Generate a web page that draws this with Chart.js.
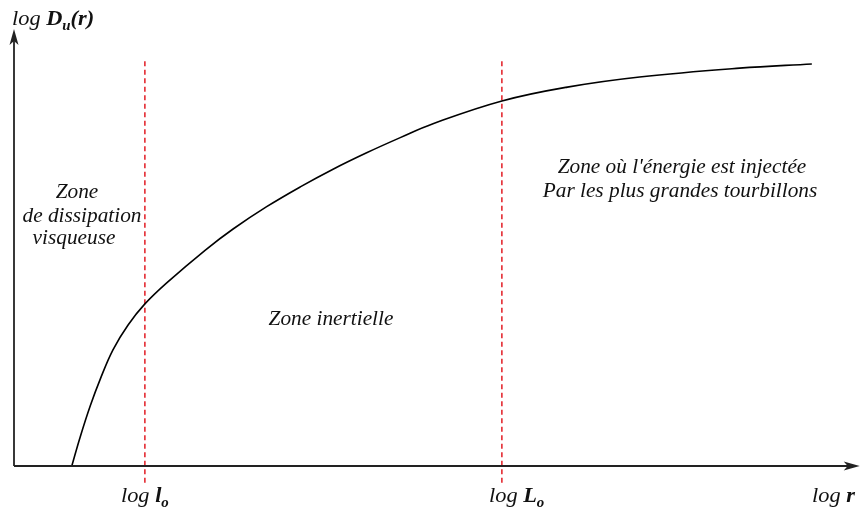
<!DOCTYPE html>
<html>
<head>
<meta charset="utf-8">
<script src="https://cdn.jsdelivr.net/npm/chart.js@4.4.1/dist/chart.umd.min.js"></script>
<style>
html,body{margin:0;padding:0;background:#fff;}
#wrap{width:863px;height:514px;}
</style>
</head>
<body>
<div id="wrap"><canvas id="c" width="863" height="514"></canvas></div>
<script>
// ---- data (arbitrary log units) ----
const curveX = [0.70, 0.80, 0.92, 1.04, 1.19, 1.37, 1.57, 1.83, 2.29, 2.62, 3.02, 3.42, 3.81, 4.21, 4.61, 5.00, 5.82, 6.60, 7.46, 8.65, 9.51];
const curveY = [0.00, 0.69, 1.43, 2.07, 2.76, 3.35, 3.85, 4.35, 5.13, 5.63, 6.16, 6.63, 7.05, 7.44, 7.80, 8.13, 8.67, 9.00, 9.24, 9.45, 9.55];
const markerX = [1.57, 5.82];          // log l0, log L0
const markerYRange = [-0.40, 9.67];
const axisXEnd = 10.08;
const axisYEnd = 10.38;
const yAxisTitle = [{t:'log '},{t:'D',b:1},{t:'u',b:1,s:1},{t:'(r)',b:1}];
const tickLabels = [
  [{t:'log '},{t:'l',b:1},{t:'o',b:1,s:1}],
  [{t:'log '},{t:'L',b:1},{t:'o',b:1,s:1}],
  [{t:'log '},{t:'r',b:1}]
];
const zoneTexts = [
  ['Zone', 'de dissipation', 'visqueuse'],
  ['Zone inertielle'],
  ["Zone où l'énergie est injectée", 'Par les plus grandes tourbillons']
];

const curveData = curveX.map((x,i)=>({x, y:curveY[i]}));
const markerSets = markerX.map(x => [{x, y:markerYRange[0]},{x, y:markerYRange[1]}]);

const FAMILY = '"Liberation Serif", "Times New Roman", serif';
const SX = 1.065;
function runFont(r, size){ return 'italic ' + (r.b ? 'bold ' : '') + (r.s ? Math.round(size*0.68) : size) + 'px ' + FAMILY; }
function runsWidth(ctx, runs, size){
  let w = 0;
  runs.forEach(r => { ctx.font = runFont(r,size); w += ctx.measureText(r.t).width; });
  return w * SX;
}
function drawRuns(ctx, runs, x, y, size, align){
  const w = runsWidth(ctx, runs, size);
  let x0 = align === 'center' ? x - w/2 : x;
  ctx.save();
  ctx.translate(x0, y);
  ctx.scale(SX, 1);
  let cx = 0;
  runs.forEach(r => {
    ctx.font = runFont(r,size);
    ctx.fillText(r.t, cx, r.s ? size*0.22 : 0);
    cx += ctx.measureText(r.t).width;
  });
  ctx.restore();
}

const decor = {
  id:'decor',
  afterDatasetsDraw(chart){
    const ctx = chart.ctx, xs = chart.scales.x, ys = chart.scales.y;
    const x0 = xs.getPixelForValue(0), y0 = ys.getPixelForValue(0);
    const xe = xs.getPixelForValue(axisXEnd), ye = ys.getPixelForValue(axisYEnd);
    ctx.save();
    ctx.strokeStyle = '#222'; ctx.fillStyle = '#222'; ctx.lineWidth = 1.8;
    ctx.beginPath(); ctx.moveTo(x0+1, y0); ctx.lineTo(xe-4, y0); ctx.stroke();
    ctx.beginPath(); ctx.moveTo(x0+1, y0); ctx.lineTo(x0+1, ye+4); ctx.stroke();
    // arrow heads
    ctx.beginPath(); ctx.moveTo(xe, y0); ctx.lineTo(xe-16, y0-4.5); ctx.lineTo(xe-12, y0); ctx.lineTo(xe-16, y0+4.5); ctx.closePath(); ctx.fill();
    ctx.beginPath(); ctx.moveTo(x0+1, ye); ctx.lineTo(x0-3.5, ye+16); ctx.lineTo(x0+1, ye+12); ctx.lineTo(x0+5.5, ye+16); ctx.closePath(); ctx.fill();
    ctx.fillStyle = '#111';
    ctx.textBaseline = 'alphabetic';
    drawRuns(ctx, yAxisTitle, 12, 25, 21, 'left');
    drawRuns(ctx, tickLabels[0], xs.getPixelForValue(markerX[0]), 502, 21, 'center');
    drawRuns(ctx, tickLabels[1], 489, 502, 21, 'left');
    drawRuns(ctx, tickLabels[2], 812, 502, 21, 'left');
    const z = 20;
    [[77,198],[82,222],[74,244]].forEach((p,i)=>drawRuns(ctx,[{t:zoneTexts[0][i]}],p[0],p[1],z,'center'));
    drawRuns(ctx,[{t:zoneTexts[1][0]}],331,325,z,'center');
    drawRuns(ctx,[{t:zoneTexts[2][0]}],682,173,z,'center');
    drawRuns(ctx,[{t:zoneTexts[2][1]}],680,197,z,'center');
    ctx.restore();
  }
};

new Chart(document.getElementById('c'), {
  type:'line',
  data:{
    datasets:[
      {data:curveData, borderColor:'#000', borderWidth:1.6, pointRadius:0, tension:0.4, fill:false, clip:false},
      {data:markerSets[0], borderColor:'#e21c24', borderWidth:1.5, borderDash:[5,3.5], pointRadius:0, clip:false},
      {data:markerSets[1], borderColor:'#e21c24', borderWidth:1.5, borderDash:[5,3.5], pointRadius:0, clip:false}
    ]
  },
  options:{
    responsive:false, animation:false, events:[],
    layout:{padding:{left:13, right:10, top:45, bottom:48}},
    plugins:{legend:{display:false}, tooltip:{enabled:false}, title:{display:false}},
    scales:{
      x:{type:'linear', min:0, max:10, display:false},
      y:{type:'linear', min:0, max:10, display:false}
    }
  },
  plugins:[decor]
});
</script>
</body>
</html>
